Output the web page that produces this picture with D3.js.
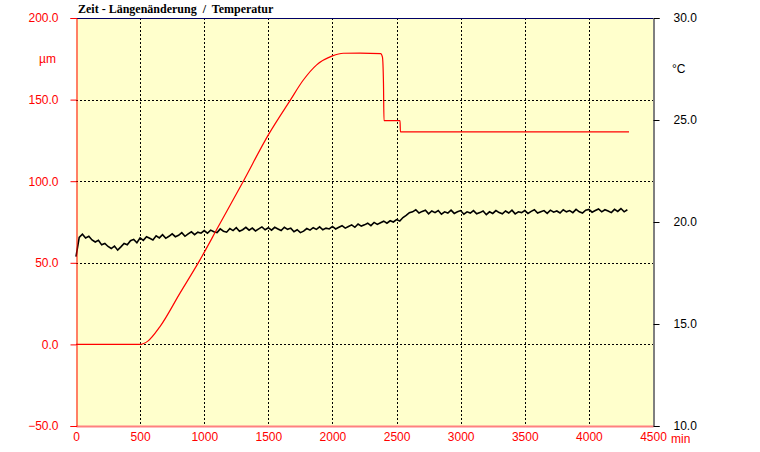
<!DOCTYPE html>
<html>
<head>
<meta charset="utf-8">
<script src="https://cdn.jsdelivr.net/npm/d3@7"></script>
<style>
html,body{margin:0;padding:0;background:#fff;}
svg{display:block;}
</style>
</head>
<body>
<div id="chart"></div>
<script>
// ---- Data ----
const titleText = "Zeit - Längenänderung  /  Temperatur";
const xTicks = [0, 500, 1000, 1500, 2000, 2500, 3000, 3500, 4000, 4500];
const leftTicks = [-50, 0, 50, 100, 150, 200];
const rightTicks = [10, 15, 20, 25, 30];
const xUnit = "min";
const leftUnit = "µm";
const rightUnit = "°C";

// Length change (µm) vs time (min)
const lengthTime = [0, 500, 560, 655, 811, 967, 1110, 1305, 1500, 1669, 1773, 1877, 2000, 2085, 2215, 2376, 2390, 2398, 2402, 2527, 2530, 4313];
const lengthValues = [0, 0, 2, 10.9, 31.4, 51.8, 72.2, 100, 128.4, 149.4, 162, 171.3, 176.8, 178.4, 178.5, 178.2, 176, 160, 137.1, 137.1, 130.2, 130.2];

// Temperature (°C), sampled every 25 min from 0
const tempStep = 25;
const tempValues = [
18.3,19.25,19.4,19.22,19.3,19.12,19.02,19.1,18.88,18.95,18.8,18.7,18.82,18.62,18.78,18.95,18.88,19.08,19.15,18.98,19.22,
19.1,19.28,19.2,19.12,19.32,19.22,19.38,19.2,19.3,19.42,19.28,19.35,19.48,19.3,19.42,19.52,19.38,19.5,19.45,19.58,
19.45,19.6,19.52,19.48,19.66,19.55,19.5,19.68,19.58,19.72,19.55,19.62,19.74,19.6,19.7,19.56,19.66,19.76,19.62,19.72,
19.6,19.74,19.66,19.58,19.74,19.64,19.7,19.52,19.62,19.48,19.55,19.68,19.6,19.72,19.64,19.76,19.62,19.7,19.66,19.78,
19.66,19.74,19.82,19.7,19.78,19.86,19.74,19.9,19.8,19.86,19.94,19.82,19.98,19.88,19.96,20.04,19.94,20.06,20.0,20.12,
20.05,20.22,20.32,20.46,20.5,20.6,20.44,20.52,20.58,20.4,20.54,20.46,20.56,20.38,20.5,20.44,20.58,20.42,20.5,20.56,
20.38,20.5,20.44,20.56,20.4,20.46,20.54,20.36,20.5,20.42,20.56,20.46,20.4,20.54,20.44,20.58,20.4,20.5,20.46,20.56,
20.42,20.52,20.6,20.44,20.5,20.56,20.42,20.58,20.48,20.54,20.44,20.6,20.5,20.56,20.46,20.62,20.5,20.44,20.58,20.62,
20.48,20.56,20.64,20.5,20.6,20.54,20.46,20.62,20.52,20.66,20.5,20.6
];

// ---- Layout ----
const W = 760, H = 452;
const plot = {left: 76, right: 653, top: 18, bottom: 426};

const svg = d3.select("#chart").append("svg")
  .attr("width", W).attr("height", H)
  .style("font-family", "'Liberation Sans', Arial, sans-serif");

const x = d3.scaleLinear().domain([0, 4500]).range([plot.left, plot.right]);
const yL = d3.scaleLinear().domain([-50, 200]).range([plot.bottom, plot.top]);
const yR = d3.scaleLinear().domain([10, 30]).range([plot.bottom, plot.top]);

// background
svg.append("rect")
  .attr("x", plot.left).attr("y", plot.top)
  .attr("width", plot.right - plot.left).attr("height", plot.bottom - plot.top)
  .attr("fill", "#ffffcc");

// grid
const grid = svg.append("g").attr("stroke", "#000").attr("stroke-width", 1)
  .attr("stroke-dasharray", "2,2").attr("shape-rendering", "crispEdges");
grid.selectAll("line.v").data(xTicks.filter(d => d > 0 && d < 4500)).join("line")
  .attr("class", "v")
  .attr("x1", d => Math.round(x(d)) + 0.5).attr("x2", d => Math.round(x(d)) + 0.5)
  .attr("y1", plot.top).attr("y2", plot.bottom);
grid.selectAll("line.h").data(leftTicks.filter(d => d > -50 && d < 200)).join("line")
  .attr("class", "h")
  .attr("y1", d => Math.round(yL(d)) + 0.5).attr("y2", d => Math.round(yL(d)) + 0.5)
  .attr("x1", plot.left).attr("x2", plot.right);

// top border
svg.append("line").attr("x1", plot.left).attr("x2", plot.right)
  .attr("y1", plot.top + 0.5).attr("y2", plot.top + 0.5)
  .attr("stroke", "#000066").attr("shape-rendering", "crispEdges");

// data lines
const lengthData = lengthTime.map((t, i) => [t, lengthValues[i]]);
const tempData = tempValues.map((v, i) => [i * tempStep, v]);

svg.append("path").datum(tempData)
  .attr("fill", "none").attr("stroke", "#000").attr("stroke-width", 1.6)
  .attr("stroke-linejoin", "miter")
  .attr("d", d3.line().x(d => x(d[0])).y(d => yR(d[1])));

svg.append("path").datum(lengthData)
  .attr("fill", "none").attr("stroke", "#ff0000").attr("stroke-width", 1.2)
  .attr("d", d3.line().x(d => x(d[0])).y(d => yL(d[1])).curve(d3.curveMonotoneX));

// bottom axis
const xAxis = d3.axisBottom(x).tickValues(xTicks).tickSize(0).tickPadding(6).tickFormat(d3.format("d"));
const gx = svg.append("g").attr("transform", `translate(0,${plot.bottom})`).call(xAxis);
gx.select(".domain").attr("stroke", "#ff8080").attr("stroke-width", 2);
gx.selectAll("text").attr("fill", "#ff0000").attr("font-size", 12)
  .attr("font-family", "'Liberation Sans', Arial, sans-serif");
svg.append("text").attr("x", 671).attr("y", 443).text(xUnit)
  .attr("fill", "#ff0000").attr("font-size", 12);

// left axis
const yAxisL = d3.axisLeft(yL).tickValues(leftTicks).tickSize(6).tickPadding(12).tickFormat(d3.format(".1f"));
const gl = svg.append("g").attr("transform", `translate(${plot.left + 0.5},0)`).call(yAxisL);
gl.select(".domain").attr("stroke", "#ff0000");
gl.selectAll(".tick line").attr("stroke", "#ff0000");
gl.selectAll("text").attr("fill", "#ff0000").attr("font-size", 12)
  .attr("font-family", "'Liberation Sans', Arial, sans-serif");
svg.append("text").attr("x", 56).attr("y", 63).attr("text-anchor", "end").text(leftUnit)
  .attr("fill", "#ff0000").attr("font-size", 12);

// right axis
const yAxisR = d3.axisRight(yR).tickValues(rightTicks).tickSize(6).tickPadding(14).tickFormat(d3.format(".1f"));
const gr = svg.append("g").attr("transform", `translate(${plot.right + 0.5},0)`).call(yAxisR);
gr.select(".domain").attr("stroke", "#000");
gr.selectAll(".tick line").attr("stroke", "#000");
gr.selectAll("text").attr("fill", "#000").attr("font-size", 12)
  .attr("font-family", "'Liberation Sans', Arial, sans-serif");
svg.append("text").attr("x", 672).attr("y", 73).text(rightUnit)
  .attr("fill", "#000").attr("font-size", 12);

// title
svg.append("text").attr("x", 78).attr("y", 13)
  .attr("font-family", "'Liberation Serif', 'Times New Roman', serif")
  .attr("font-weight", "bold").attr("font-size", 12)
  .style("white-space", "pre").attr("xml:space", "preserve")
  .text(titleText);
</script>
</body>
</html>
